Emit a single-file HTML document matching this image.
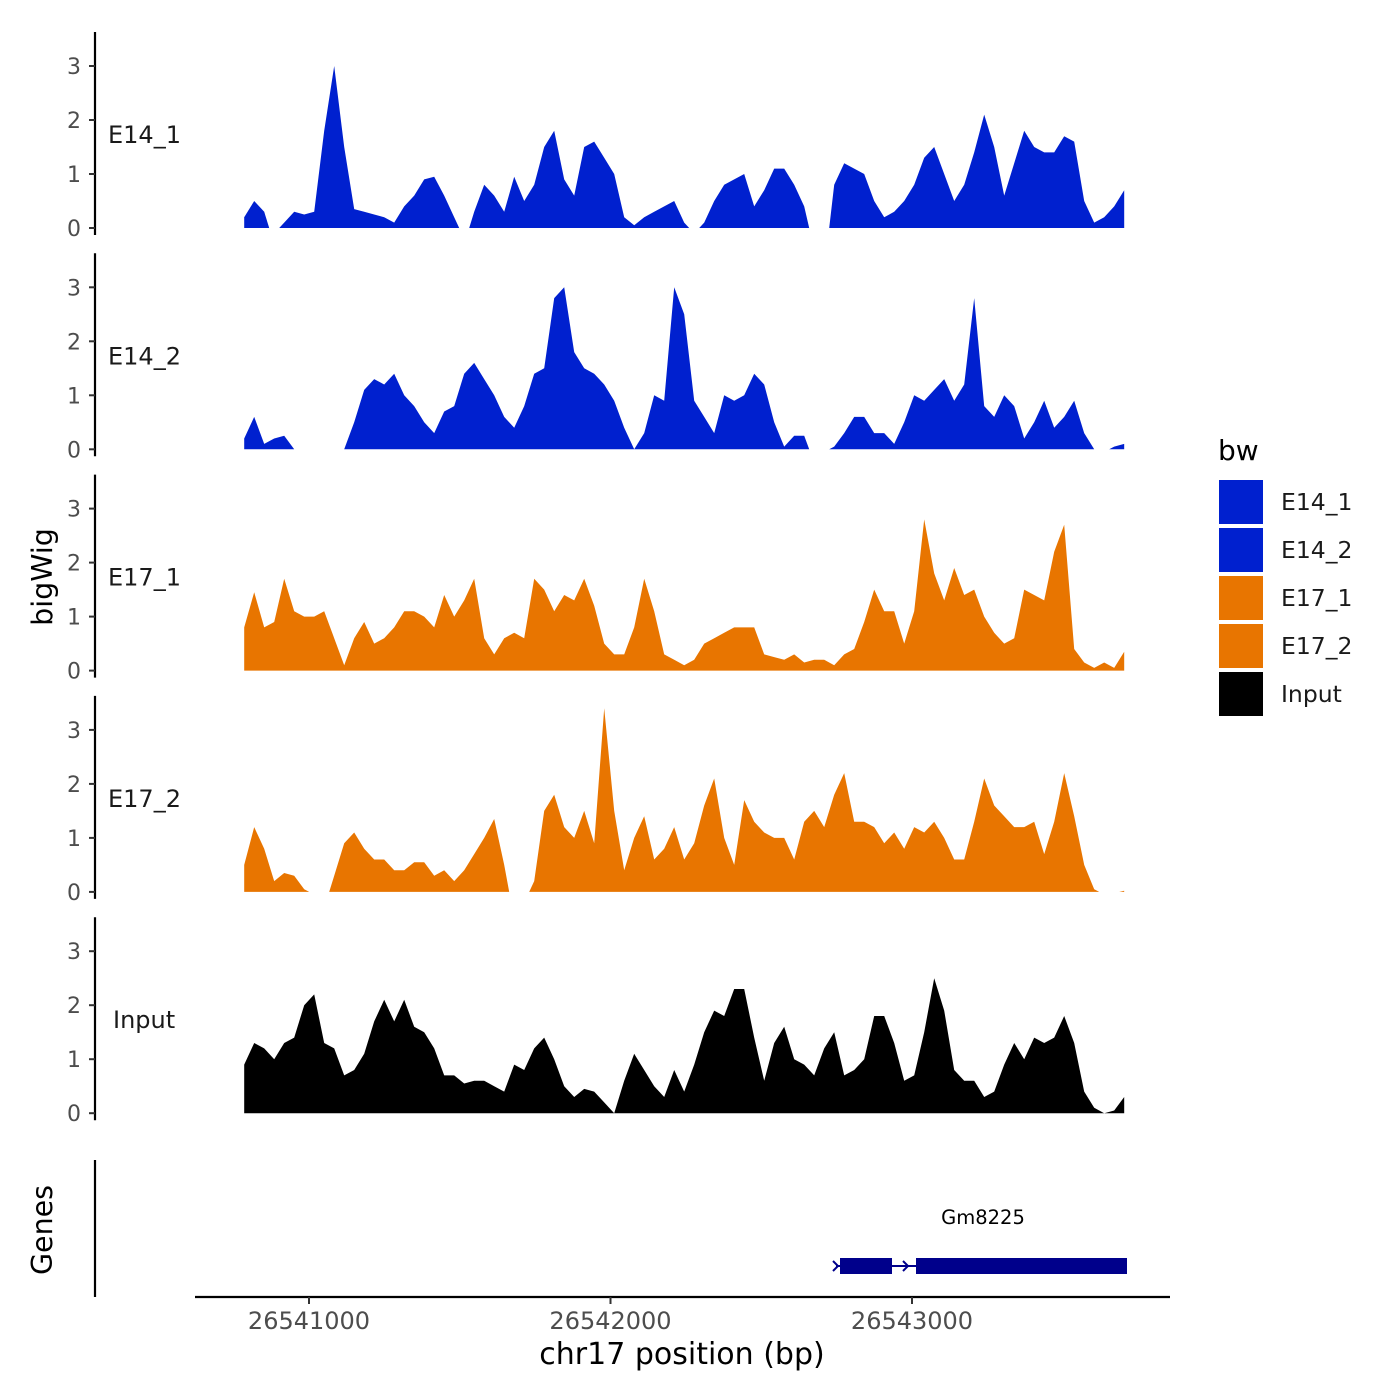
<!DOCTYPE html>
<html><head><meta charset="utf-8"><style>
body{margin:0;background:#fff;}
svg{display:block;font-family:"DejaVu Sans","Liberation Sans",sans-serif;}
</style></head><body>
<svg id="chart" width="1400" height="1400" viewBox="0 0 1400 1400">
<rect width="1400" height="1400" fill="#fff"/>
<g id="tracks"></g>
<g id="gene">
  <line x1="95" y1="1160" x2="95" y2="1297" stroke="#000" stroke-width="2.2"/>
  <line x1="836" y1="1266" x2="1127" y2="1266" stroke="#00008B" stroke-width="2"/>
  <rect x="840" y="1258" width="52" height="16" fill="#00008B"/>
  <rect x="916" y="1258" width="211" height="16" fill="#00008B"/>
  <path d="M833 1261 L838 1266 L833 1271 M903 1261 L908 1266 L903 1271" stroke="#00008B" stroke-width="2" fill="none"/>
  <text x="983" y="1224" font-size="19.5" text-anchor="middle" fill="#000">Gm8225</text>
  <text transform="translate(52,1230) rotate(-90)" font-size="28.5" text-anchor="middle" fill="#000">Genes</text>
</g>
<g id="xaxis">
  <line x1="195" y1="1297" x2="1170" y2="1297" stroke="#000" stroke-width="2.2"/>
</g>
<text x="682" y="1364" font-size="30" text-anchor="middle" fill="#000">chr17 position (bp)</text>
<text transform="translate(52,577) rotate(-90)" font-size="28.5" text-anchor="middle" fill="#000">bigWig</text>
<g id="legend">
  <text x="1218" y="460" font-size="28" fill="#000">bw</text>
</g>
</svg>
<script>
const categories = ["E14_1","E14_2","E17_1","E17_2","Input"];
const seriesColors = ["#0020CF","#0020CF","#E87500","#E87500","#000000"];
const xTickValues = [26541000,26542000,26543000];
const xTickLabels = ["26541000","26542000","26543000"];
const yTickValues = [0,1,2,3];
const startBp = 26540785;
const stepBp = 33.17;
const e14_1 = [0.2,0.5,0.3,null,0.1,0.3,0.25,0.3,1.8,3.0,1.5,0.35,0.3,0.25,0.2,0.1,0.4,0.6,0.9,0.95,0.6,0.2,null,0.3,0.8,0.6,0.3,0.95,0.5,0.8,1.5,1.8,0.9,0.6,1.5,1.6,1.3,1.0,0.2,0.05,0.2,0.3,0.4,0.5,0.1,null,0.1,0.5,0.8,0.9,1.0,0.4,0.7,1.1,1.1,0.8,0.4,null,null,0.8,1.2,1.1,1.0,0.5,0.2,0.3,0.5,0.8,1.3,1.5,1.0,0.5,0.8,1.4,2.1,1.5,0.6,1.2,1.8,1.5,1.4,1.4,1.7,1.6,0.5,0.1,0.2,0.4,0.7];
const e14_2 = [0.2,0.6,0.1,0.2,0.25,0.0,null,null,null,null,0.0,0.5,1.1,1.3,1.2,1.4,1.0,0.8,0.5,0.3,0.7,0.8,1.4,1.6,1.3,1.0,0.6,0.4,0.8,1.4,1.5,2.8,3.0,1.8,1.5,1.4,1.2,0.9,0.4,0.0,0.3,1.0,0.9,3.0,2.5,0.9,0.6,0.3,1.0,0.9,1.0,1.4,1.2,0.5,0.05,0.25,0.25,null,null,0.05,0.3,0.6,0.6,0.3,0.3,0.1,0.5,1.0,0.9,1.1,1.3,0.9,1.2,2.8,0.8,0.6,1.0,0.8,0.2,0.5,0.9,0.4,0.6,0.9,0.3,0.0,null,0.05,0.1];
const e17_1 = [0.8,1.45,0.8,0.9,1.7,1.1,1.0,1.0,1.1,0.6,0.1,0.6,0.9,0.5,0.6,0.8,1.1,1.1,1.0,0.8,1.4,1.0,1.3,1.7,0.6,0.3,0.6,0.7,0.6,1.7,1.5,1.1,1.4,1.3,1.7,1.2,0.5,0.3,0.3,0.8,1.7,1.1,0.3,0.2,0.1,0.2,0.5,0.6,0.7,0.8,0.8,0.8,0.3,0.25,0.2,0.3,0.15,0.2,0.2,0.1,0.3,0.4,0.9,1.5,1.1,1.1,0.5,1.1,2.8,1.8,1.3,1.9,1.4,1.5,1.0,0.7,0.5,0.6,1.5,1.4,1.3,2.2,2.7,0.4,0.15,0.05,0.15,0.05,0.35];
const e17_2 = [0.5,1.2,0.8,0.2,0.35,0.3,0.05,null,null,0.3,0.9,1.1,0.8,0.6,0.6,0.4,0.4,0.55,0.55,0.3,0.4,0.2,0.4,0.7,1.0,1.35,0.5,null,null,0.2,1.5,1.8,1.2,1.0,1.5,0.9,3.4,1.5,0.4,1.0,1.4,0.6,0.8,1.2,0.6,0.9,1.6,2.1,1.0,0.5,1.7,1.3,1.1,1.0,1.0,0.6,1.3,1.5,1.2,1.8,2.2,1.3,1.3,1.2,0.9,1.1,0.8,1.2,1.1,1.3,1.0,0.6,0.6,1.3,2.1,1.6,1.4,1.2,1.2,1.3,0.7,1.3,2.2,1.4,0.5,0.05,null,null,0.02];
const input = [0.9,1.3,1.2,1.0,1.3,1.4,2.0,2.2,1.3,1.2,0.7,0.8,1.1,1.7,2.1,1.7,2.1,1.6,1.5,1.2,0.7,0.7,0.55,0.6,0.6,0.5,0.4,0.9,0.8,1.2,1.4,1.0,0.5,0.3,0.45,0.4,0.2,0.0,0.6,1.1,0.8,0.5,0.3,0.8,0.4,0.9,1.5,1.9,1.8,2.3,2.3,1.4,0.6,1.3,1.6,1.0,0.9,0.7,1.2,1.5,0.7,0.8,1.0,1.8,1.8,1.3,0.6,0.7,1.5,2.5,1.9,0.8,0.6,0.6,0.3,0.4,0.9,1.3,1.0,1.4,1.3,1.4,1.8,1.3,0.4,0.1,0.0,0.05,0.3];
const seriesValues = [e14_1,e14_2,e17_1,e17_2,input];

const NS = "http://www.w3.org/2000/svg";
function xScale(bp){ return 309 + (bp - 26541000) * 0.3015; }
function panelZero(k){ return 228 + k * 221.3; }
function yScale(k, v){ return panelZero(k) - v * 54; }
function mk(tag, attrs, parent){ const e = document.createElementNS(NS, tag); for (const a in attrs) e.setAttribute(a, attrs[a]); parent.appendChild(e); return e; }

const tracks = document.getElementById("tracks");
categories.forEach((cat, k) => {
  const g = mk("g", {}, tracks);
  
  
  const top = 32 + k * 221.3;
  const ax = mk("line", {x1:95, y1:top, x2:95, y2:top + 203, stroke:"#000", "stroke-width":2.2}, g);
  
  
  yTickValues.forEach(t => {
    const y = yScale(k, t);
    const tk = mk("line", {x1:89, y1:y, x2:95, y2:y, stroke:"#333", "stroke-width":2}, g);
    
    
    const tl = mk("text", {x:81, y:y + 8, "font-size":22, "text-anchor":"end", fill:"#4d4d4d"}, g);
    tl.textContent = String(t);
    
    
  });
  const lab = mk("text", {x: cat === "Input" ? 113 : 108, y: top + 111, "font-size":24, fill:"#1a1a1a"}, g);
  lab.textContent = cat;
  
  
  const vals = seriesValues[k];
  const segs = [];
  let seg = [];
  const half = stepBp * 0.5;
  vals.forEach((v, i) => {
    if (v === null) {
      if (seg.length) { seg.push([xScale(startBp + (i - 1) * stepBp + half), panelZero(k)]); segs.push(seg); }
      seg = [];
    } else {
      if (!seg.length && i > 0) seg.push([xScale(startBp + i * stepBp - half), panelZero(k)]);
      seg.push([xScale(startBp + i * stepBp), yScale(k, v)]);
    }
  });
  if (seg.length) segs.push(seg);
  const z = panelZero(k);
  segs.forEach(s => {
    let d = "M" + s[0][0].toFixed(1) + " " + z.toFixed(1);
    s.forEach(p => { d += " L" + p[0].toFixed(1) + " " + p[1].toFixed(1); });
    d += " L" + s[s.length-1][0].toFixed(1) + " " + z.toFixed(1) + " Z";
    const p = mk("path", {d: d, fill: seriesColors[k]}, g);
    
    
  });
});

const xa = document.getElementById("xaxis");
xTickValues.forEach((v, i) => {
  const x = xScale(v);
  const t = mk("line", {x1:x, y1:1297, x2:x, y2:1304, stroke:"#333", "stroke-width":2}, xa);
  
  
  const l = mk("text", {x:x, y:1329, "font-size":24, "text-anchor":"middle", fill:"#4d4d4d"}, xa);
  l.textContent = xTickLabels[i];
  
  
});

const lg = document.getElementById("legend");
categories.forEach((cat, i) => {
  const y = 480 + i * 48;
  const r = mk("rect", {x:1219, y:y, width:44, height:44, fill:seriesColors[i]}, lg);
  
  
  const t = mk("text", {x:1281, y:y + 30, "font-size":23.5, fill:"#1a1a1a"}, lg);
  t.textContent = cat;
  
  
});
</script>
</body></html>
